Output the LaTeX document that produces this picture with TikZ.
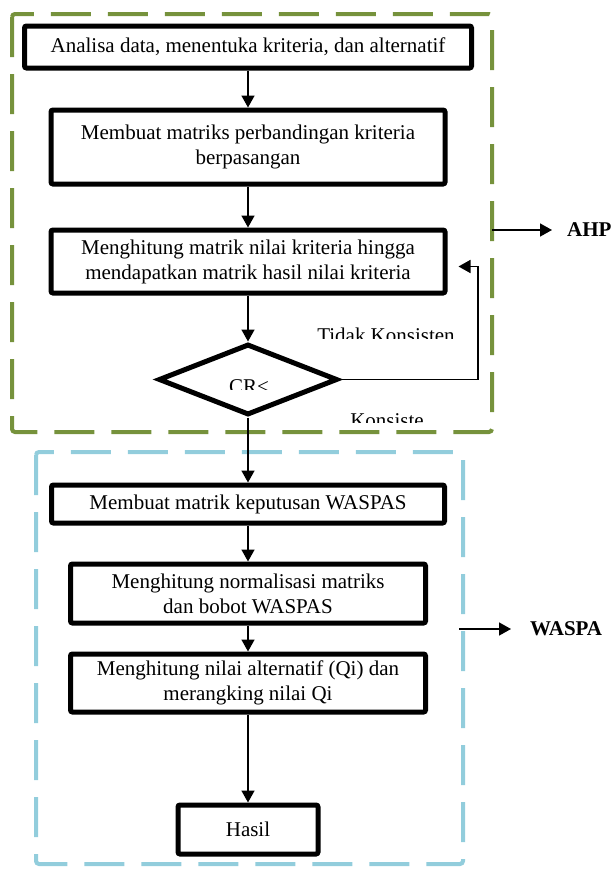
\documentclass[tikz,border=0pt]{standalone}
\usepackage{fontspec}
\setmainfont{Liberation Serif}
\usetikzlibrary{positioning,shapes.geometric,arrows.meta}
\definecolor{ahpgreen}{RGB}{118,146,60}
\definecolor{waspblue}{RGB}{146,205,220}

\begin{document}
\begin{tikzpicture}[x=1pt, y=-1pt, font=\fontsize{21}{25}\selectfont,
    box/.style={draw, line width=5pt, rounded corners=2pt, align=center, inner sep=2pt},
    cek/.style={draw, diamond, line width=5pt, inner sep=0pt, minimum width=179pt, minimum height=71pt},
    conn/.style={line width=1.6pt, -{Triangle[length=12pt,width=13pt]}},
    grpframe/.style={dash pattern=on 40pt off 17pt, line width=4pt, rounded corners=3pt},
    grp/.style={font=\fontsize{21}{25}\selectfont\bfseries, inner sep=0pt},
    lbl/.style={anchor=base, inner sep=0pt}]
    \useasboundingbox (0,0) rectangle (611,870);

    % kelompok AHP dan WASPAS
    \draw[grpframe, ahpgreen] (12,14) rectangle (492,432);
    \draw[grpframe, waspblue] (36,452) rectangle (463,864);

    \node (analisa) [box, minimum width=447pt, minimum height=42pt] at (248,47) {Analisa data, menentuka kriteria, dan alternatif};
    \node (banding) [box, minimum width=394pt, minimum height=74pt, below=37pt of analisa] {Membuat matriks perbandingan kriteria\\berpasangan};
    \node (nilai) [box, minimum width=394pt, minimum height=63pt, below=41pt of banding] {Menghitung matrik nilai kriteria hingga\\mendapatkan matrik hasil nilai kriteria};
    \node (cek) [cek, below=46pt of nilai] {};
    \node (keputusan) [box, minimum width=393pt, minimum height=38pt, below=65pt of cek] {Membuat matrik keputusan WASPAS};
    \node (normal) [box, minimum width=355pt, minimum height=59pt, below=36pt of keputusan] {Menghitung normalisasi matriks\\dan bobot WASPAS};
    \node (qi) [box, minimum width=355pt, minimum height=58pt, below=26pt of normal] {Menghitung nilai alternatif (Qi) dan\\merangking nilai Qi};
    \node (hasil) [box, minimum width=140pt, minimum height=49pt, below=88pt of qi] {Hasil};

    % teks yang terpotong
    \begin{scope}
        \clip (200,370) rectangle (300,389);
        \node (cr) [lbl] at (249,393) {CR<};
    \end{scope}
    \begin{scope}
        \clip (300,320) rectangle (470,338);
        \node (tidak) [lbl] at (386,342) {Tidak Konsisten};
    \end{scope}
    \begin{scope}
        \clip (330,405) rectangle (450,422);
        \node (konsisten) [lbl] at (387,427) {Konsiste};
    \end{scope}

    \draw[conn] (analisa) -- (banding);
    \draw[conn] (banding) -- (nilai);
    \draw[conn] (nilai) -- (cek);
    \draw[conn] (cek) -- (keputusan);
    \draw[conn] (keputusan) -- (normal);
    \draw[conn] (normal) -- (qi);
    \draw[conn] (qi) -- (hasil);
    \draw[conn] (cek.east) -- ++(138,0) |- ([xshift=11pt,yshift=-5pt]nilai.east);

    \coordinate (ahpout) at (492,230);
    \node (ahp) [grp, anchor=west] at (567,230) {AHP};
    \draw[conn] (ahpout) -- ([xshift=-15pt]ahp.west);
    \coordinate (waspout) at (459,629);
    \node (waspa) [grp, anchor=west] at (530,629) {WASPA};
    \draw[conn] (waspout) -- ([xshift=-19pt]waspa.west);
\end{tikzpicture}
\end{document}
